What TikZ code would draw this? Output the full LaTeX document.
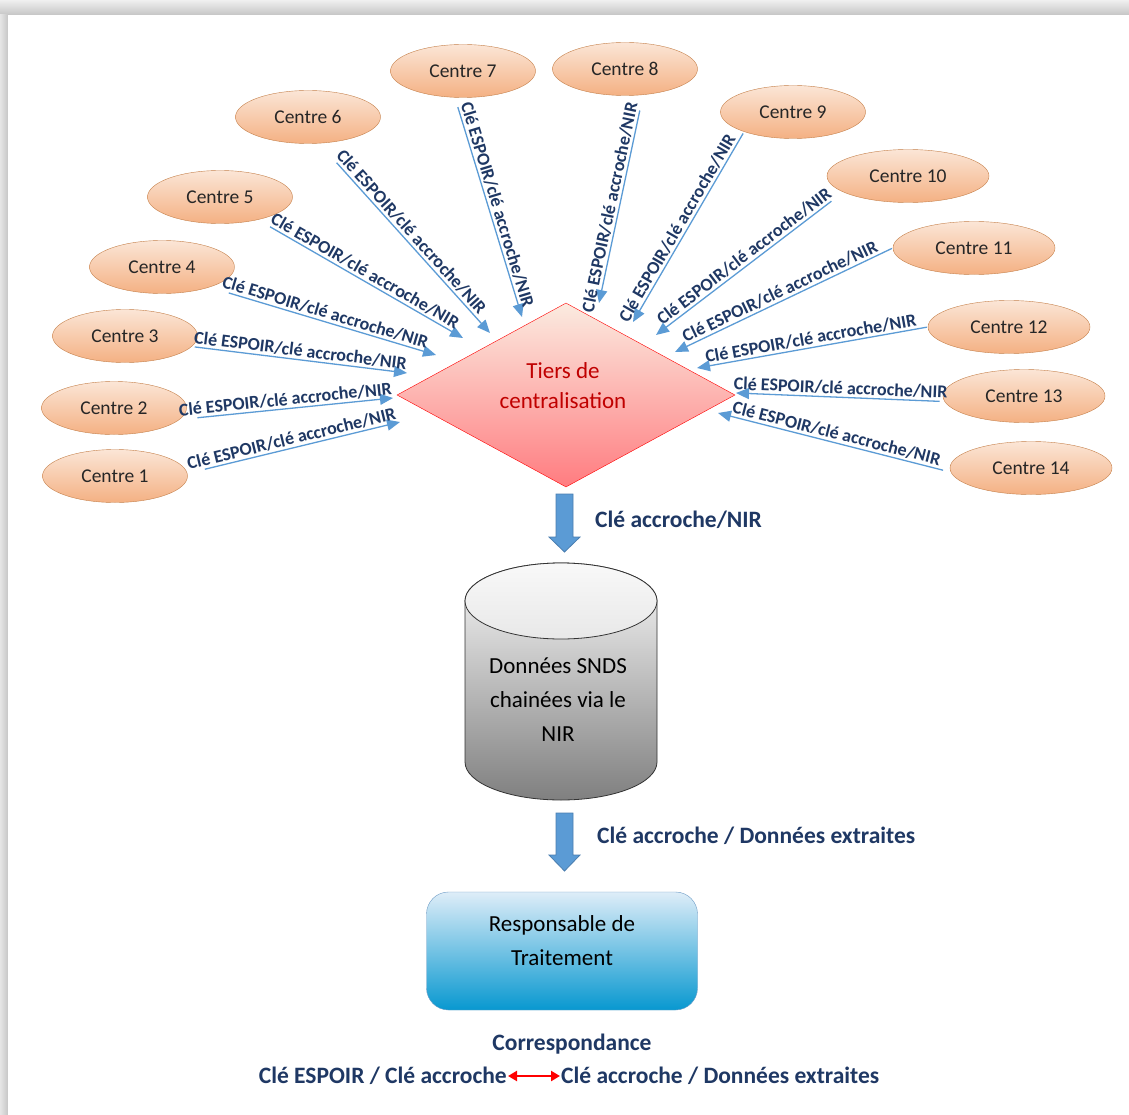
\documentclass[tikz,border=0pt]{standalone}
\usepackage{fontspec}
\setmainfont{Carlito}
\usetikzlibrary{shapes.geometric,arrows.meta,positioning}

\definecolor{arrowblue}{HTML}{5B9BD5}
\definecolor{labelnavy}{HTML}{1F3864}
\definecolor{centretop}{HTML}{FBE5D6}
\definecolor{centrebot}{HTML}{F4B183}
\definecolor{centreline}{HTML}{C5804A}
\definecolor{tierstop}{HTML}{FBEBE0}
\definecolor{tiersbot}{HTML}{FF7C80}
\definecolor{tierstext}{HTML}{C00000}
\definecolor{resptop}{HTML}{DEEDF8}
\definecolor{respbot}{HTML}{0898D0}
\definecolor{respline}{HTML}{6E9CC6}
\definecolor{blockline}{HTML}{4A7EB0}

\begin{document}
\begin{tikzpicture}[x=1pt,y=-1pt,
    centre/.style={shape=ellipse,draw=centreline,top color=centretop,bottom color=centrebot,
        minimum width=145pt,minimum height=53pt,inner sep=0pt,text=black!85,
        font=\fontsize{19.5}{22}\selectfont},
    widecentre/.style={centre,minimum width=162pt},
    conn/.style={draw=arrowblue,line width=1.3pt,-{Triangle[length=13pt,width=11pt]}},
    lbl/.style={sloped,above,midway,inner sep=2pt,text=labelnavy,
        font=\bfseries\fontsize{18}{20}\selectfont},
    tiers/.style={shape=diamond,draw=red,top color=tierstop,bottom color=tiersbot,
        minimum width=338pt,minimum height=184pt,inner sep=0pt},
    bigtxt/.style={align=center,font=\fontsize{23}{34}\selectfont},
    flowlbl/.style={text=labelnavy,inner sep=1pt,font=\bfseries\fontsize{23.5}{26}\selectfont},
    blockarrow/.style={fill=arrowblue,draw=blockline,line width=0.8pt},
    respbox/.style={draw=respline,rounded corners=22pt,top color=resptop,bottom color=respbot,
        minimum width=271pt,minimum height=118pt},
    redarrow/.style={draw=red,line width=2.5pt,{Triangle[length=9pt,width=10pt]}-{Triangle[length=9pt,width=10pt]}}]

    \useasboundingbox (0,0) rectangle (1129,1115);
    % page frame
    \fill[gray!35] (0,0) rectangle (1129,1115);
    \shade[top color=gray!12,bottom color=gray!45] (0,0) rectangle (1129,15);
    \shade[left color=gray!20,right color=gray!45] (0,15) rectangle (8,1115);
    \fill[white] (8,15) rectangle (1129,1115);

    % centres
    \node[centre] (c1) at (115,476) {Centre 1};
    \node[centre] (c2) at (114,408) {Centre 2};
    \node[centre] (c3) at (125,336) {Centre 3};
    \node[centre] (c4) at (162,267) {Centre 4};
    \node[centre] (c5) at (220,197) {Centre 5};
    \node[centre] (c6) at (308,117) {Centre 6};
    \node[centre] (c7) at (463,71) {Centre 7};
    \node[centre] (c8) at (625,69) {Centre 8};
    \node[centre] (c9) at (793,112) {Centre 9};
    \node[widecentre] (c10) at (908,176) {Centre 10};
    \node[widecentre] (c11) at (974,248) {Centre 11};
    \node[widecentre] (c12) at (1009,327) {Centre 12};
    \node[widecentre] (c13) at (1024,396) {Centre 13};
    \node[widecentre] (c14) at (1031,468) {Centre 14};

    % tiers de centralisation
    \node[tiers] (dia) at (566,395) {};
    \node[bigtxt,text=tierstext,font=\fontsize{23}{30}\selectfont] (diatxt) at (563,386) {Tiers de\\centralisation};

    % arrow tips around the diamond
    \coordinate (t1) at (400,422);
    \coordinate (t2) at (393,398);
    \coordinate (t3) at (407,373);
    \coordinate (t4) at (436,355);
    \coordinate (t5) at (463,338);
    \coordinate (t6) at (490,333);
    \coordinate (t7) at (522,317);
    \coordinate (t8) at (599,303);
    \coordinate (t9) at (633,322);
    \coordinate (t10) at (656,335);
    \coordinate (t11) at (675,352);
    \coordinate (t12) at (697,368);
    \coordinate (t13) at (736,393);
    \coordinate (t14) at (718,413);

    \draw [conn,shorten <=18pt] (c1.2) -- node[lbl] {Clé ESPOIR/clé accroche/NIR} (t1);
    \draw [conn,shorten <=18pt] (c2.-10) -- node[lbl] {Clé ESPOIR/clé accroche/NIR} (t2);
    \draw [conn,shorten <=3pt] (c3.-9) -- node[lbl] {Clé ESPOIR/clé accroche/NIR} (t3);
    \draw [conn,shorten <=20pt] (c4.-23) -- node[lbl] {Clé ESPOIR/clé accroche/NIR} (t4);
    \draw [conn,shorten <=14pt] (c5.-31) -- node[lbl] {Clé ESPOIR/clé accroche/NIR} (t5);
    \draw [conn,shorten <=26pt] (c6.-67) -- node[lbl] {Clé ESPOIR/clé accroche/NIR} (t6);
    \draw [conn,shorten <=10pt] (c7.-107) -- node[lbl] {Clé ESPOIR/clé accroche/NIR} (t7);
    \draw [conn,shorten <=16pt] (c8.-55) -- node[lbl,pos=.55] {Clé ESPOIR/clé accroche/NIR} (t8);
    \draw [conn,shorten <=2pt] (c9.202) -- node[lbl,pos=.53] {Clé ESPOIR/clé accroche/NIR} (t9);
    \draw [conn,shorten <=15pt] (c10.194) -- node[lbl] {Clé ESPOIR/clé accroche/NIR} (t10);
    \draw [conn,shorten <=1pt] (c11.180) -- node[lbl] {Clé ESPOIR/clé accroche/NIR} (t11);
    \draw [conn,shorten <=1pt] (c12.180) -- node[lbl] {Clé ESPOIR/clé accroche/NIR} (t12);
    \draw [conn,shorten <=5pt] (c13.184) -- node[lbl] {Clé ESPOIR/clé accroche/NIR} (t13);
    \draw [conn,shorten <=8pt] (c14.183) -- node[lbl] {Clé ESPOIR/clé accroche/NIR} (t14);

    % first block arrow
    \filldraw[blockarrow] (556,494) -- (573,494) -- (573,537) -- (580,537) -- (564.5,552)
        -- (549,537) -- (556,537) -- cycle;
    \node[flowlbl,anchor=west] (lblnir) at (594,520) {Clé accroche/NIR};

    % database
    \shade[top color=gray!4,bottom color=black!50,draw=black!80,line width=0.8pt]
        (465,601) -- (465,762) arc[start angle=180,end angle=0,x radius=96,y radius=38]
        -- (657,601) arc[start angle=0,end angle=-180,x radius=96,y radius=38] -- cycle;
    \shade[top color=gray!5,bottom color=gray!18,draw=black!80,line width=0.8pt]
        (561,601) ellipse[x radius=96,y radius=38];
    \node[bigtxt] (db) at (558,700) {Données SNDS\\chainées via le\\NIR};

    % second block arrow
    \filldraw[blockarrow] (556,813) -- (573,813) -- (573,855) -- (580,855) -- (564.5,871)
        -- (549,855) -- (556,855) -- cycle;
    \node[flowlbl,anchor=west] (lblext) at (596,836) {Clé accroche / Données extraites};

    % responsable
    \node[respbox] (resp) at (562,951) {};
    \node[bigtxt] (resptxt) at (562,941) {Responsable de\\Traitement};

    % correspondance
    \node[flowlbl] (corresp) at (572,1044) {Correspondance};
    \node[flowlbl,anchor=east] (corl) at (508,1076) {Clé ESPOIR / Clé accroche};
    \node[flowlbl,anchor=west] (corr) at (560,1076) {Clé accroche / Données extraites};
    \draw[redarrow] (corl.east) -- (corr.west);
\end{tikzpicture}
\end{document}
